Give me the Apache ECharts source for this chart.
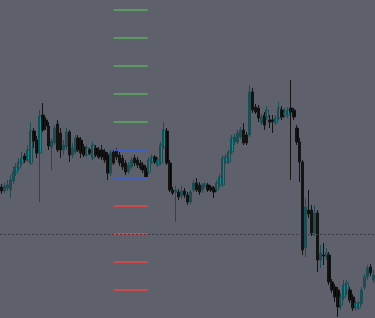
<!DOCTYPE html>
<html>
<head>
<meta charset="utf-8">
<script src="https://cdn.jsdelivr.net/npm/echarts@6/dist/echarts.min.js"></script>
<style>
html,body{margin:0;padding:0;background:#5e616c;}
#chart{width:375px;height:318px;}
</style>
</head>
<body>
<div id="chart"></div>
<script>
// Price values in chart units (axis is inverted: smaller value = higher on screen)
// each candle: [open, close, lowEnd, highEnd]
const candles = [
[187,191,194,184],[191,186,193,183],[188,185,191,180],[190,180,198,175],[181,172,184,166],
[173,167,176,163],[168,162,171,158],[163,158,166,152],[156,160,163,153],[160,150,162,145],
[163,131,165,122],[131,141,148,128],[140,153,158,136],[153,116,202,110],[115,130,132,103],
[120,126,130,117],[126,146,150,122],[147,141,170,138],
[143,128,145,125],[124,150,152,120],[133,150,158,128],[150,145,155,140],[147,132,150,128],
[132,155,162,130],[155,148,158,143],[152,138,154,135],[138,150,152,135],[140,153,158,137],
[147,155,157,144],[155,148,157,145],[150,153,155,148],[158,145,160,142],[148,155,157,145],
[150,157,159,147],[150,157,160,145],[152,160,163,149],[155,173,180,152],
[173,153,176,150],[152,163,165,150],[150,157,160,148],[155,163,166,152],[158,167,170,155],
[163,172,175,160],[172,165,174,162],[167,160,169,157],[158,163,166,155],[160,165,168,157],
[163,168,170,160],[165,170,173,162],[168,177,178,165],[172,160,174,157],[162,157,164,154],
[157,162,164,155],[165,160,167,157],[163,145,165,142],[147,130,149,122],[131,163,165,128],
[163,190,192,160],[190,193,195,187],[192,190,222,186],
[192,197,200,189],[196,191,199,186],[191,195,198,188],[195,202,205,192],[202,192,204,190],
[190,183,192,180],[183,190,192,178],[185,192,195,182],[190,185,193,183],[186,184,188,182],
[185,190,192,183],[187,190,192,185],[188,192,198,186],[190,183,192,180],[185,177,188,174],
[185,158,187,155],[162,157,164,154],[162,152,164,150],[152,138,154,135],[142,137,145,134],
[142,133,144,130],[137,130,139,127],[130,143,145,123],[135,143,145,132],[135,92,137,85],
[92,110,113,88],[107,112,114,104],[108,118,122,105],[123,117,125,114],[115,125,130,112],
[117,110,120,106],[120,122,128,115],[120,121,133,115],[123,118,125,115],[118,108,120,102],
[110,117,120,106],[115,112,118,108],[115,110,118,107],[108,112,180,80],[110,117,120,108],
[128,142,145,125],[142,162,182,138],[162,250,255,160],[248,207,257,198],[210,214,218,190],
[210,233,236,205],[233,213,236,205],[213,260,272,210],[260,253,268,245],[255,256,265,243],
[257,253,260,248],[255,282,285,252],[282,290,293,279],[287,297,302,284],[290,307,317,287],
[305,297,310,293],[297,285,300,280],[292,283,295,280],[290,300,303,287],[297,308,311,294],
[308,303,311,300],[308,303,310,301],[303,290,305,287],[287,277,290,274],[277,268,280,265],
[267,273,276,264],[280,275,283,270]
];
const greenLevels = [10, 38, 66, 94, 122];
const blueLevels = [150, 178];
const redLevels = [206, 234, 262, 290];
const levelSpan = [38.5, 50];   // in candle-index units
const dottedLevel = 234.5;

const categories = candles.map((_, i) => String(i + 1));
const N = candles.length;

function levelLines(levels, color) {
  return levels.map(v => [
    { coord: [levelSpan[0], v], lineStyle: { color: color, width: 2, type: 'solid', opacity: 0.9 } },
    { coord: [levelSpan[1], v] }
  ]);
}

const chart = echarts.init(document.getElementById('chart'), null, { renderer: 'canvas' });
chart.setOption({
  backgroundColor: '#5e616c',
  animation: false,
  grid: { left: 0, right: -6, top: 0, bottom: 0 },
  xAxis: [
    { type: 'category', data: categories, boundaryGap: true, show: false },
    { type: 'value', min: 0, max: N, show: false }
  ],
  yAxis: { type: 'value', inverse: true, min: 0, max: 318, show: false, splitLine: { show: false } },
  series: [
    {
      type: 'candlestick',
      data: candles,
      barWidth: 3,
      z: 3,
      itemStyle: {
        color: '#050505', borderColor: '#141414',
        color0: '#16878f', borderColor0: '#1f4c52',
        borderWidth: 1
      },
      markLine: {
        silent: true, symbol: 'none', label: { show: false },
        lineStyle: { color: '#393c45', type: [2, 2], width: 1 },
        data: [{ yAxis: dottedLevel }],
        z: 6
      }
    },
    {
      type: 'line', xAxisIndex: 1, yAxisIndex: 0, data: [], silent: true, z: 5,
      markLine: {
        silent: true, symbol: 'none', label: { show: false },
        emphasis: { disabled: true },
        data: [].concat(
          levelLines(greenLevels, '#5e9e62'),
          levelLines(blueLevels, '#3c60cc'),
          levelLines(redLevels, '#d84848')
        )
      }
    }
  ]
});
</script>
</body>
</html>
